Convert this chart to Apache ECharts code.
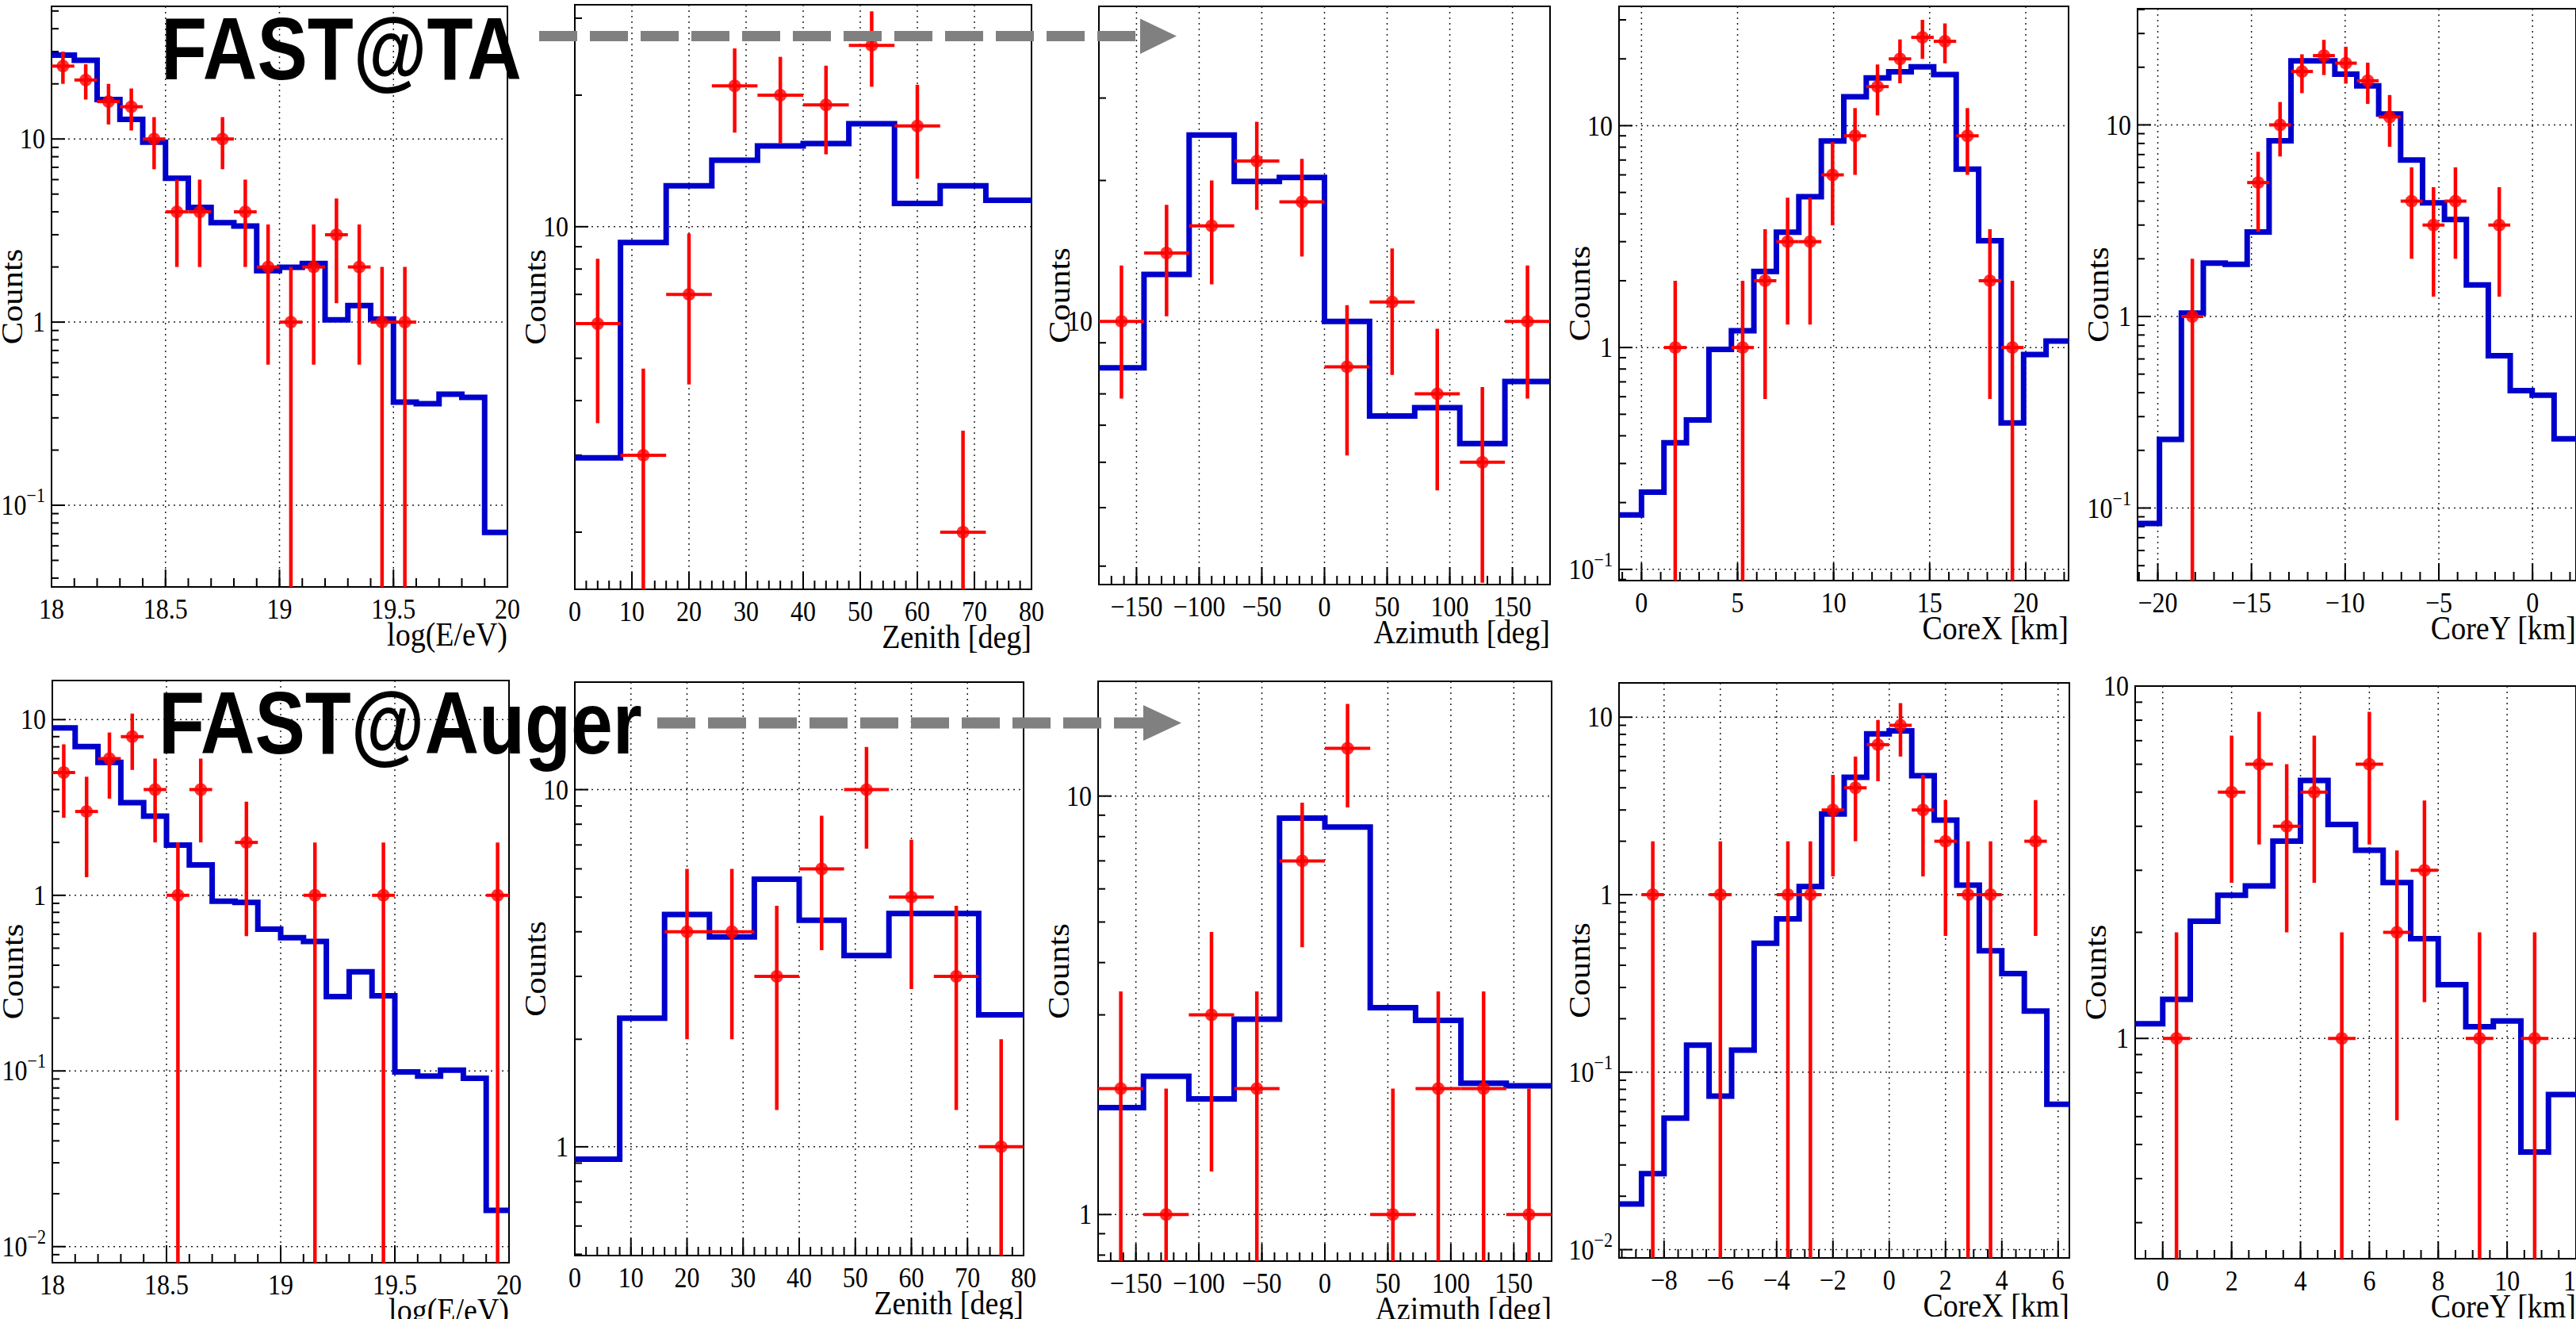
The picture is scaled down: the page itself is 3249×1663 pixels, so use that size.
<!DOCTYPE html>
<html>
<head>
<meta charset="utf-8">
<title>FAST@TA / FAST@Auger</title>
<script src="https://cdn.jsdelivr.net/npm/echarts@6.0.0/dist/echarts.min.js"></script>
<style>
  html, body { margin: 0; padding: 0; background: #fff; }
  #chart { width: 3249px; height: 1663px; }
</style>
</head>
<body>
<div id="chart"></div>
<script>
// ---- values ----
// columns: energy, zenith, azimuth, core x, core y
// top row = FAST@TA, bottom row = FAST@Auger

// binning: lower edge of first bin and bin width
const taBinStart = [18, 0, -180, -1.17, -21.08];
const taBinWidth = [0.1, 8, 36, 1.17, 1.17];
const augerBinStart = [18, 0, -180, -9.6, -0.8];
const augerBinWidth = [0.1, 8, 36, 0.8, 0.8];

const axisTitles = ['log(E/eV)', 'Zenith [deg]', 'Azimuth [deg]', 'CoreX [km]', 'CoreY [km]'];

// expected counts per bin (blue histogram)
const taEnergyMC = [28.7, 26.9, 16.4, 12.8, 9.6, 6.1, 4.23, 3.49, 3.35, 1.91, 1.99, 2.09, 1.03, 1.23, 1.04, 0.366, 0.358, 0.404, 0.388, 0.071];
const taZenithMC = [2.96, 9.2, 12.4, 14.2, 15.3, 15.5, 17.2, 11.3, 12.4, 11.5];
const taAzimuthMC = [7.96, 12.6, 25, 19.9, 20.3, 10, 6.28, 6.54, 5.48, 7.44];
const taCoreXMC = [0.176, 0.223, 0.372, 0.471, 0.98, 1.19, 2.2, 3.31, 4.78, 8.53, 13.5, 16.4, 17.5, 18.4, 17.0, 6.37, 3.03, 0.457, 0.93, 1.07];
const taCoreYMC = [0.083, 0.228, 1.04, 1.9, 1.87, 2.76, 8.27, 21.6, 21.6, 18.4, 16.0, 11.4, 6.55, 3.92, 3.21, 1.46, 0.624, 0.41, 0.388, 0.23];

const augerEnergyMC = [8.97, 7.03, 5.71, 3.37, 2.82, 1.93, 1.49, 0.925, 0.91, 0.642, 0.574, 0.546, 0.265, 0.367, 0.268, 0.0987, 0.0934, 0.101, 0.0908, 0.0161];
const augerZenithMC = [0.923, 2.29, 4.47, 3.87, 5.61, 4.31, 3.43, 4.5, 4.5, 2.34];
const augerAzimuthMC = [1.8, 2.14, 1.89, 2.93, 8.86, 8.43, 3.12, 2.91, 2.06, 2.03];
const augerCoreXMC = [0.0181, 0.0268, 0.0551, 0.142, 0.0732, 0.133, 0.532, 0.731, 1.11, 2.85, 4.58, 8.06, 8.37, 4.68, 2.63, 1.13, 0.483, 0.359, 0.221, 0.0659];
const augerCoreYMC = [1.1, 1.29, 2.15, 2.55, 2.71, 3.63, 5.4, 4.05, 3.42, 2.77, 1.92, 1.42, 1.08, 1.12, 0.476, 0.693];

// observed events per bin (red points), 0 = empty bin
const taEnergyData = [25, 21, 16, 15, 10, 4, 4, 10, 4, 2, 1, 2, 3, 2, 1, 1, 0, 0, 0, 0];
const taZenithData = [6, 3, 7, 21, 20, 19, 26, 17, 2, 0];
const taAzimuthData = [10, 14, 16, 22, 18, 8, 11, 7, 5, 10];
const taCoreXData = [0, 0, 1, 0, 0, 1, 2, 3, 3, 6, 9, 15, 20, 25, 24, 9, 2, 1, 0, 0];
const taCoreYData = [0, 0, 1, 0, 0, 5, 10, 19, 23, 21, 17, 11, 4, 3, 4, 0, 3, 0, 0, 0];

const augerEnergyData = [5, 3, 6, 8, 4, 1, 4, 0, 2, 0, 0, 1, 0, 0, 1, 0, 0, 0, 0, 1];
const augerZenithData = [0, 0, 4, 4, 3, 6, 10, 5, 3, 1];
const augerAzimuthData = [2, 1, 3, 2, 7, 13, 1, 2, 2, 1];
const augerCoreXData = [0, 1, 0, 0, 1, 0, 0, 1, 1, 3, 4, 7, 9, 3, 2, 1, 1, 0, 2, 0];
const augerCoreYData = [0, 1, 0, 5, 6, 4, 5, 1, 6, 2, 3, 0, 1, 0, 1, 0];

// ---- layout of the ten pads (px), y ranges and x tick steps ----
const pads = [
  {rect: [65, 8, 575, 732],    y: [0.0358, 53],   major: 0.5, minor: 0.1},
  {rect: [725, 6, 576, 737],   y: [1.48, 32.2],   major: 10,  minor: 2},
  {rect: [1386, 8, 569, 729],  y: [2.74, 47.1],   major: 50,  minor: 10},
  {rect: [2042, 8, 567, 724],  y: [0.089, 34.5],  major: 5,   minor: 1},
  {rect: [2696, 11, 565, 721], y: [0.0418, 40.4], major: 5,   minor: 1},
  {rect: [66, 858, 576, 734],  y: [0.0081, 16.7], major: 0.5, minor: 0.1},
  {rect: [725, 860, 566, 723], y: [0.496, 20],    major: 10,  minor: 2},
  {rect: [1385, 859, 572, 731],y: [0.774, 18.8],  major: 50,  minor: 10},
  {rect: [2042, 861, 568, 725],y: [0.00898, 15.6],major: 2,   minor: 0.5},
  {rect: [2693, 865, 565, 722],y: [0.237, 10],    major: 2,   minor: 0.5}
];

const rows = [
  {start: taBinStart, width: taBinWidth,
   mc: [taEnergyMC, taZenithMC, taAzimuthMC, taCoreXMC, taCoreYMC],
   obs: [taEnergyData, taZenithData, taAzimuthData, taCoreXData, taCoreYData]},
  {start: augerBinStart, width: augerBinWidth,
   mc: [augerEnergyMC, augerZenithMC, augerAzimuthMC, augerCoreXMC, augerCoreYMC],
   obs: [augerEnergyData, augerZenithData, augerAzimuthData, augerCoreXData, augerCoreYData]}
];

const STRETCH = 1.12;  // the picture is a little taller than the fonts
const SERIF = '"Liberation Serif", "Times New Roman", serif';
const TICK_FONT = '32px ' + SERIF;
const TITLE_FONT = '38px ' + SERIF;
const TICK = {stroke: '#000', lineWidth: 2};
const DOTS = {stroke: '#222', lineWidth: 1.5, lineDash: [2, 5]};

function steps(lo, hi, step) {
  const out = [];
  const k0 = Math.ceil(lo / step - 1e-9), k1 = Math.floor(hi / step + 1e-9);
  for (let k = k0; k <= k1; k++) out.push(+(k * step).toFixed(6));
  return out;
}
function logSteps(lo, hi) {
  const major = [], minor = [];
  for (let e = Math.floor(Math.log10(lo)) ; e <= Math.ceil(Math.log10(hi)); e++) {
    for (let m = 1; m <= 9; m++) {
      const v = m * Math.pow(10, e);
      if (v < lo * (1 - 1e-9) || v > hi * (1 + 1e-9)) continue;
      (m === 1 ? major : minor).push(v);
    }
  }
  return {major, minor};
}
function xLabel(v) {
  const s = String(Math.abs(v));
  return v < 0 ? '\u2212' + s : s;
}
function seg(x1, y1, x2, y2, style) {
  return {type: 'line', shape: {x1, y1, x2, y2}, style};
}
function label(x, y, txt, align, valign, font) {
  return {type: 'text', x, y, scaleY: STRETCH,
    style: {text: txt, font: font || TICK_FONT, fill: '#000',
            align, verticalAlign: valign, textAlign: align, textVerticalAlign: valign}};
}
function yLabel(x, y, v) {
  const e = Math.round(Math.log10(v));
  if (e === 0 || e === 1) return label(x, y, e === 0 ? '1' : '10', 'right', 'middle');
  const el = label(x, y, '{b|10}{s|' + (e < 0 ? '\u2212' : '') + Math.abs(e) + '}', 'right', 'middle');
  el.style.rich = {
    b: {font: TICK_FONT, lineHeight: 44},
    s: {font: '22px ' + SERIF, lineHeight: 22, verticalAlign: 'top'}
  };
  return el;
}

// ticks, grid, tick labels and titles of one pad, ROOT style
function frameRenderer(p) {
  return function (params, api) {
    const cs = params.coordSys;
    const l = cs.x, r = cs.x + cs.width, t = cs.y, b = cs.y + cs.height;
    const xAt = v => api.coord([v, p.ymin])[0];
    const yAt = v => api.coord([p.xmin, v])[1];
    const out = [];
    steps(p.xmin, p.xmax, p.minor).forEach(v => out.push(seg(xAt(v), b, xAt(v), b - 11, TICK)));
    steps(p.xmin, p.xmax, p.major).forEach(v => {
      const x = xAt(v);
      if (x > l + 2 && x < r - 2) out.push(seg(x, t, x, b, DOTS));
      out.push(seg(x, b, x, b - 22, TICK));
      out.push(label(x, b + 10, xLabel(v), 'center', 'top'));
    });
    const yt = logSteps(p.ymin, p.ymax);
    yt.minor.forEach(v => out.push(seg(l, yAt(v), l + 9, yAt(v), TICK)));
    yt.major.forEach(v => {
      const y = yAt(v);
      if (y > t + 2 && y < b - 2) out.push(seg(l, y, r, y, DOTS));
      out.push(seg(l, y, l + 17, y, TICK));
      out.push(yLabel(l - 8, y, v));
    });
    out.push(label(r, b + 38, p.title, 'right', 'top', TITLE_FONT));
    out.push({type: 'text', x: l - 50, y: (t + b) / 2, rotation: Math.PI / 2, scaleX: STRETCH,
      style: {text: 'Counts', font: TITLE_FONT, fill: '#000',
              align: 'center', verticalAlign: 'middle', textAlign: 'center', textVerticalAlign: 'middle'}});
    return {type: 'group', children: out};
  };
}

// poisson error bars on the observed counts, full bin width horizontally
function errorRenderer(half) {
  return function (params, api) {
    const x = api.value(0), n = api.value(1);
    const err = Math.sqrt(n);
    const cs = params.coordSys;
    const c = api.coord([x, n]);
    const top = api.coord([x, n + err])[1];
    const bottom = n - err > 0 ? api.coord([x, n - err])[1] : cs.y + cs.height + 10;
    const left = api.coord([x - half, n])[0];
    const right = api.coord([x + half, n])[0];
    return {type: 'group', children: [
      seg(c[0], top, c[0], bottom, {stroke: '#ff0000', lineWidth: 4.5}),
      seg(left, c[1], right, c[1], {stroke: '#ff0000', lineWidth: 4})
    ]};
  };
}

const option = {
  animation: false,
  backgroundColor: '#fff',
  grid: [], xAxis: [], yAxis: [], series: [],
  graphic: []
};
const hidden = {axisLine: {show: false}, axisTick: {show: false}, axisLabel: {show: false}, splitLine: {show: false}};

pads.forEach((pad, i) => {
  const row = rows[Math.floor(i / 5)], col = i % 5;
  const x0 = row.start[col], bw = row.width[col];
  const mc = row.mc[col], obs = row.obs[col];
  const p = {xmin: x0, xmax: +(x0 + bw * mc.length).toFixed(6), ymin: pad.y[0], ymax: pad.y[1],
             major: pad.major, minor: pad.minor, title: axisTitles[col]};

  option.grid.push({left: pad.rect[0], top: pad.rect[1], width: pad.rect[2], height: pad.rect[3],
    show: true, borderColor: '#000', borderWidth: 2, backgroundColor: 'rgba(0,0,0,0)'});
  option.xAxis.push(Object.assign({type: 'value', gridIndex: i, min: p.xmin, max: p.xmax}, hidden));
  option.yAxis.push(Object.assign({type: 'log', logBase: 10, gridIndex: i, min: p.ymin, max: p.ymax}, hidden));

  option.series.push({type: 'custom', xAxisIndex: i, yAxisIndex: i, silent: true, clip: false, z: 1,
    data: [[p.xmin, p.ymin]], renderItem: frameRenderer(p)});

  const hist = mc.map((v, k) => [+(x0 + k * bw).toFixed(6), v]);
  hist.push([p.xmax, mc[mc.length - 1]]);
  option.series.push({type: 'line', xAxisIndex: i, yAxisIndex: i, step: 'end', data: hist,
    symbol: 'none', showSymbol: false, silent: true, clip: true, z: 3,
    lineStyle: {color: '#0000cc', width: 7, join: 'miter', cap: 'butt'}});

  const pts = [];
  obs.forEach((n, k) => { if (n > 0) pts.push([+(x0 + (k + 0.5) * bw).toFixed(6), n]); });
  option.series.push({type: 'custom', xAxisIndex: i, yAxisIndex: i, silent: true, clip: true, z: 4,
    data: pts, renderItem: errorRenderer(bw / 2)});
  option.series.push({type: 'scatter', xAxisIndex: i, yAxisIndex: i, silent: true, clip: true, z: 5,
    data: pts, symbol: 'circle', symbolSize: 16, itemStyle: {color: '#ff0000'}});
});

// labels and dashed arrows across the rows
const GRAY = '#808080';
const BANNER = '"Liberation Sans", Arial, sans-serif';
option.graphic = [
  {type: 'text', x: 203, y: 61, scaleY: 1.18, z: 100,
   style: {text: 'FAST@TA', font: 'bold 95px ' + BANNER, fill: '#000', textVerticalAlign: 'middle'}},
  {type: 'line', z: 100, shape: {x1: 680, y1: 45.5, x2: 1434, y2: 45.5}, style: {stroke: GRAY, lineWidth: 13, lineDash: [48, 16]}},
  {type: 'polygon', z: 100, shape: {points: [[1438, 23.5], [1484, 45.5], [1438, 68]]}, style: {fill: GRAY}},
  {type: 'text', x: 200, y: 911, scaleY: 1.18, z: 100,
   style: {text: 'FAST@Auger', font: 'bold 95px ' + BANNER, fill: '#000', textVerticalAlign: 'middle'}},
  {type: 'line', z: 100, shape: {x1: 829, y1: 911.5, x2: 1443, y2: 911.5}, style: {stroke: GRAY, lineWidth: 14, lineDash: [48, 16]}},
  {type: 'polygon', z: 100, shape: {points: [[1442, 889], [1490, 911.5], [1442, 934]]}, style: {fill: GRAY}}
];

const chart = echarts.init(document.getElementById('chart'), null, {renderer: 'svg', width: 3249, height: 1663});
chart.setOption(option);
</script>
</body>
</html>
